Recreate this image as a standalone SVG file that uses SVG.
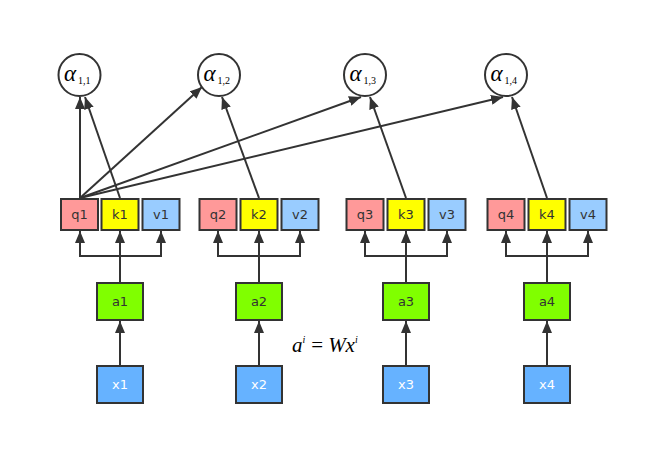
<svg xmlns="http://www.w3.org/2000/svg" width="669" height="465" viewBox="0 0 669 465">
<style>
.box{stroke:#333;stroke-width:2}
.q{fill:#FF9999}.k{fill:#FFFF00}.v{fill:#99CCFF}.a{fill:#80FF00}.x{fill:#66B2FF}
.t{font-family:"DejaVu Sans","Liberation Sans",sans-serif;font-size:13px;fill:#333;text-anchor:middle;dominant-baseline:central}
.tw{fill:#fff}
.c{fill:#fff;stroke:#333;stroke-width:2}
.al{font-family:"Liberation Serif",serif;font-style:italic;font-size:23px;fill:#000}
.sub{font-family:"Liberation Serif",serif;font-size:10px;fill:#000}
.e{fill:none;stroke:#333;stroke-width:2}
.ea{fill:none;stroke:#333;stroke-width:2;marker-end:url(#ar)}
.f{font-family:"Liberation Serif",serif;font-style:italic;font-size:21px;fill:#000}
</style>
<defs>
<marker id="ar" markerUnits="userSpaceOnUse" viewBox="0 0 12 10" refX="12" refY="5" markerWidth="12" markerHeight="10" orient="auto">
<path d="M0,0 L12,5 L0,10 Z" fill="#333"/>
</marker>
</defs>
<rect width="669" height="465" fill="#fff"/>

<g id="connectors">
<line class="ea" x1="120" y1="366" x2="120" y2="321"/>
<line class="ea" x1="120" y1="283" x2="120" y2="231"/>
<polyline class="e" points="80,256 161,256"/>
<line class="ea" x1="80" y1="257" x2="80" y2="231"/>
<line class="ea" x1="161" y1="257" x2="161" y2="231"/>
<line class="ea" x1="259" y1="366" x2="259" y2="321"/>
<line class="ea" x1="259" y1="283" x2="259" y2="231"/>
<polyline class="e" points="218,256 300,256"/>
<line class="ea" x1="218" y1="257" x2="218" y2="231"/>
<line class="ea" x1="300" y1="257" x2="300" y2="231"/>
<line class="ea" x1="406" y1="366" x2="406" y2="321"/>
<line class="ea" x1="406" y1="283" x2="406" y2="231"/>
<polyline class="e" points="365,256 447,256"/>
<line class="ea" x1="365" y1="257" x2="365" y2="231"/>
<line class="ea" x1="447" y1="257" x2="447" y2="231"/>
<line class="ea" x1="547" y1="366" x2="547" y2="321"/>
<line class="ea" x1="547" y1="283" x2="547" y2="231"/>
<polyline class="e" points="506,256 588,256"/>
<line class="ea" x1="506" y1="257" x2="506" y2="231"/>
<line class="ea" x1="588" y1="257" x2="588" y2="231"/>
<line class="ea" x1="80" y1="198" x2="80" y2="97"/>
<line class="ea" x1="80" y1="198" x2="202" y2="87"/>
<line class="ea" x1="80" y1="198" x2="361" y2="97"/>
<line class="ea" x1="80" y1="198" x2="503" y2="97"/>
<line class="ea" x1="120" y1="198" x2="85" y2="97"/>
<line class="ea" x1="259" y1="198" x2="222" y2="97"/>
<line class="ea" x1="406" y1="198" x2="370" y2="97"/>
<line class="ea" x1="547" y1="198" x2="512" y2="97"/>
</g>

<g id="alpha11"><circle class="c" cx="79.5" cy="75" r="21"/><text class="al" x="64" y="81">α</text><text class="sub" x="78" y="84">1,1</text></g>
<g id="alpha12"><circle class="c" cx="219" cy="75" r="21"/><text class="al" x="203.5" y="81">α</text><text class="sub" x="217.5" y="84">1,2</text></g>
<g id="alpha13"><circle class="c" cx="365" cy="75" r="21"/><text class="al" x="349.5" y="81">α</text><text class="sub" x="363.5" y="84">1,3</text></g>
<g id="alpha14"><circle class="c" cx="506" cy="75" r="21"/><text class="al" x="490.5" y="81">α</text><text class="sub" x="504.5" y="84">1,4</text></g>

<g id="q1"><rect class="box q" x="61" y="199" width="37" height="31"/><text class="t" x="79.5" y="214.5">q1</text></g>
<g id="k1"><rect class="box k" x="101.5" y="199" width="37" height="31"/><text class="t" x="120" y="214.5">k1</text></g>
<g id="v1"><rect class="box v" x="142.5" y="199" width="37" height="31"/><text class="t" x="161" y="214.5">v1</text></g>
<g id="q2"><rect class="box q" x="199.5" y="199" width="37" height="31"/><text class="t" x="218" y="214.5">q2</text></g>
<g id="k2"><rect class="box k" x="240.5" y="199" width="37" height="31"/><text class="t" x="259" y="214.5">k2</text></g>
<g id="v2"><rect class="box v" x="281.5" y="199" width="37" height="31"/><text class="t" x="300" y="214.5">v2</text></g>
<g id="q3"><rect class="box q" x="346.5" y="199" width="37" height="31"/><text class="t" x="365" y="214.5">q3</text></g>
<g id="k3"><rect class="box k" x="387.5" y="199" width="37" height="31"/><text class="t" x="406" y="214.5">k3</text></g>
<g id="v3"><rect class="box v" x="428.5" y="199" width="37" height="31"/><text class="t" x="447" y="214.5">v3</text></g>
<g id="q4"><rect class="box q" x="487.5" y="199" width="37" height="31"/><text class="t" x="506" y="214.5">q4</text></g>
<g id="k4"><rect class="box k" x="528.5" y="199" width="37" height="31"/><text class="t" x="547" y="214.5">k4</text></g>
<g id="v4"><rect class="box v" x="569.5" y="199" width="37" height="31"/><text class="t" x="588" y="214.5">v4</text></g>

<g id="a1"><rect class="box a" x="97" y="283" width="46" height="37"/><text class="t" x="120" y="301.5">a1</text></g>
<g id="a2"><rect class="box a" x="236" y="283" width="46" height="37"/><text class="t" x="259" y="301.5">a2</text></g>
<g id="a3"><rect class="box a" x="383" y="283" width="46" height="37"/><text class="t" x="406" y="301.5">a3</text></g>
<g id="a4"><rect class="box a" x="524" y="283" width="46" height="37"/><text class="t" x="547" y="301.5">a4</text></g>

<g id="x1"><rect class="box x" x="97" y="366" width="46" height="37"/><text class="t tw" x="120" y="384.5">x1</text></g>
<g id="x2"><rect class="box x" x="236" y="366" width="46" height="37"/><text class="t tw" x="259" y="384.5">x2</text></g>
<g id="x3"><rect class="box x" x="383" y="366" width="46" height="37"/><text class="t tw" x="406" y="384.5">x3</text></g>
<g id="x4"><rect class="box x" x="524" y="366" width="46" height="37"/><text class="t tw" x="547" y="384.5">x4</text></g>

<g id="formula"><text class="f" x="292" y="352">a<tspan font-size="10" dy="-9">i</tspan><tspan dy="9" dx="6" font-style="normal">=</tspan><tspan dx="5">Wx</tspan><tspan font-size="10" dy="-9">i</tspan></text></g>
</svg>
